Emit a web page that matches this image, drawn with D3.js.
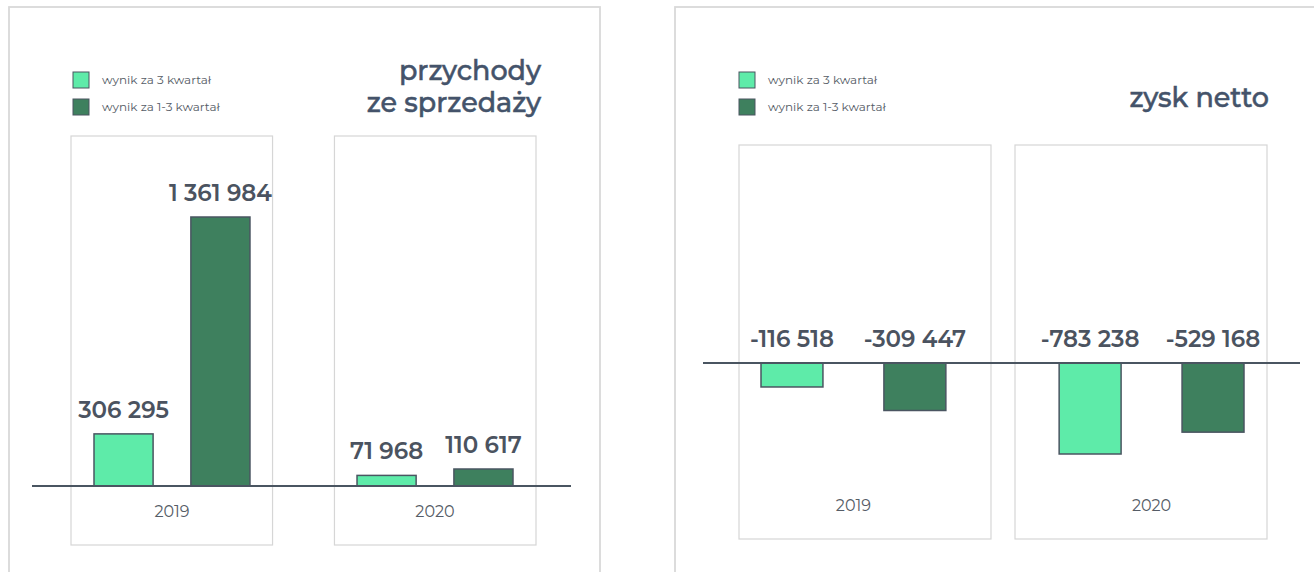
<!DOCTYPE html>
<html>
<head>
<meta charset="utf-8">
<script src="https://cdn.jsdelivr.net/npm/d3@7"></script>
<style>
  body { margin: 0; background: #fff; }
  svg { display: block; font-family: Montserrat, Inter, "Open Sans", sans-serif; }
</style>
</head>
<body>
<svg id="canvas" width="1314" height="572"></svg>
<script>
// data
const years = ['2019', '2020'];
const seriesNames = ['wynik za 3 kwartał', 'wynik za 1-3 kwartał'];
const revenueQ3 = [306295, 71968];
const revenueQ13 = [1361984, 110617];
const profitQ3 = [-116518, -783238];
const profitQ13 = [-309447, -529168];
const revenueTitle = ['przychody', 'ze sprzedaży'];
const profitTitle = ['zysk netto'];

const colors = ['#5eeba9', '#3e805e'];
const strokeDark = '#4a5561';
const textColor = '#4b5360';
const titleColor = '#44536a';

const pl = d3.formatLocale({decimal: ',', thousands: ' ', grouping: [3], currency: ['', ''], minus: '-'});
const fmt = pl.format(',d');

const canvas = d3.select('#canvas');

const panels = [
    {
        q3: revenueQ3, q13: revenueQ13, title: revenueTitle,
        frame: [9, 7, 591], boxes: [71, 536], boxPad: 0.235, boxTop: 136, boxBottom: 545,
        pairs: [94, 513], pairPad: 0.407, barPad: 0.39,
        baseY: 486, extentY: 217, exponent: 1.1, line: [32, 571],
        legendX: 73, legendY: 72, titleX: 541, titleY: [80, 112]
    },
    {
        q3: profitQ3, q13: profitQ13, title: profitTitle,
        frame: [675, 7, 700], boxes: [739, 1267], boxPad: 0.087, boxTop: 145, boxBottom: 539,
        pairs: [761, 1244], pairPad: 0.38, barPad: 0.496,
        baseY: 363, extentY: 454, exponent: 0.7, line: [703, 1300],
        legendX: 739, legendY: 72, titleX: 1269, titleY: [107]
    }
];

const drawPanel = (p) => {
    const g = canvas.append('g');

    // outer frame (open at the bottom, cut by the picture edge)
    g.append('rect')
        .attr('x', p.frame[0]).attr('y', p.frame[1])
        .attr('width', p.frame[2]).attr('height', 620)
        .attr('fill', 'none').attr('stroke', '#d9d9d9').attr('stroke-width', 1.8);

    const rows = years.map((year, i) => ({year, values: [p.q3[i], p.q13[i]]}));

    const xBox = d3.scaleBand().domain(years).range(p.boxes).paddingInner(p.boxPad);
    const xPair = d3.scaleBand().domain(years).range(p.pairs).paddingInner(p.pairPad);
    const xBar = d3.scaleBand().domain([0, 1]).range([0, xPair.bandwidth()]).paddingInner(p.barPad);

    const all = p.q3.concat(p.q13);
    const ext = d3.max(all, v => Math.abs(v)) * Math.sign(d3.sum(all));
    const y = d3.scalePow().exponent(p.exponent)
                .domain([0, ext])
                .range([p.baseY, p.extentY]);

    // year boxes
    g.selectAll('.box')
        .data(years)
        .enter()
        .append('rect')
        .attr('class', 'box')
        .attr('x', d => xBox(d))
        .attr('y', p.boxTop)
        .attr('width', xBox.bandwidth())
        .attr('height', p.boxBottom - p.boxTop)
        .attr('fill', 'none')
        .attr('stroke', '#d6d6d6')
        .attr('stroke-width', 1.2);

    const group = g.selectAll('.year')
        .data(rows)
        .enter()
        .append('g')
        .attr('class', 'year')
        .attr('transform', d => 'translate(' + xPair(d.year) + ',0)');

    group.selectAll('rect')
        .data(d => d.values)
        .enter()
        .append('rect')
        .attr('x', (v, i) => xBar(i))
        .attr('y', v => Math.min(y(v), y(0)))
        .attr('width', xBar.bandwidth())
        .attr('height', v => Math.abs(y(v) - y(0)))
        .attr('fill', (v, i) => colors[i])
        .attr('stroke', strokeDark)
        .attr('stroke-width', 1.5);

    group.selectAll('.val')
        .data(d => d.values)
        .enter()
        .append('text')
        .attr('class', 'val')
        .attr('x', (v, i) => xBar(i) + xBar.bandwidth() / 2)
        .attr('y', v => Math.min(y(v), y(0)) - 16)
        .attr('text-anchor', 'middle')
        .attr('font-size', 23)
        .attr('font-weight', 600)
        .attr('fill', textColor)
        .text(v => fmt(v));

    group.append('text')
        .attr('x', xPair.bandwidth() / 2)
        .attr('y', p.boxBottom - 28)
        .attr('text-anchor', 'middle')
        .attr('font-size', 16)
        .attr('fill', '#555c66')
        .text(d => d.year);

    // zero line
    g.append('line')
        .attr('x1', p.line[0]).attr('x2', p.line[1])
        .attr('y1', y(0)).attr('y2', y(0))
        .attr('stroke', strokeDark).attr('stroke-width', 2);

    // legend
    const legend = g.selectAll('.legend')
        .data(seriesNames)
        .enter()
        .append('g')
        .attr('class', 'legend')
        .attr('transform', (d, i) => 'translate(' + p.legendX + ',' + (p.legendY + i * 27) + ')');

    legend.append('rect')
        .attr('width', 16).attr('height', 16)
        .attr('fill', (d, i) => colors[i])
        .attr('stroke', strokeDark).attr('stroke-width', 1);

    legend.append('text')
        .attr('x', 29).attr('y', 8)
        .attr('dy', '0.35em')
        .attr('font-size', 12)
        .attr('fill', '#555c66')
        .text(d => d);

    // title
    g.selectAll('.title')
        .data(p.title)
        .enter()
        .append('text')
        .attr('class', 'title')
        .attr('x', p.titleX)
        .attr('y', (d, i) => p.titleY[i])
        .attr('text-anchor', 'end')
        .attr('font-size', 27)
        .attr('font-weight', 500)
        .attr('fill', titleColor)
        .attr('stroke', titleColor)
        .attr('stroke-width', 0.5)
        .text(d => d);
};

panels.forEach(drawPanel);
</script>
</body>
</html>
